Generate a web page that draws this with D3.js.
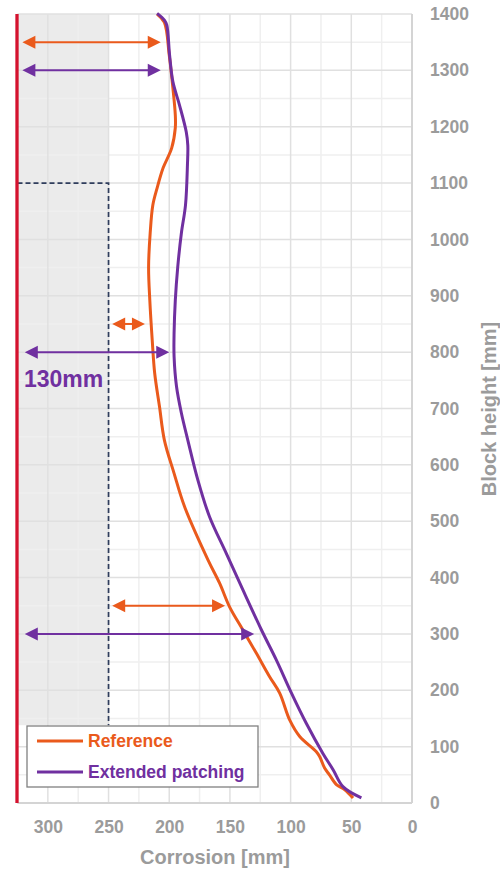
<!DOCTYPE html>
<html>
<head>
<meta charset="utf-8">
<script src="https://cdn.jsdelivr.net/npm/d3@7"></script>
<style>
  body { margin: 0; background: #fff; }
  text { font-family: "Liberation Sans", Arial, sans-serif; font-weight: bold; }
</style>
</head>
<body>
<div id="chart"></div>
<script>
// data: [corrosion mm, block height mm]
var referenceData = [
  [210, 1400], [204, 1385], [200, 1327], [197, 1269], [195, 1221], [195, 1198],
  [198, 1162], [205, 1127], [210, 1091], [213.5, 1061], [215.7, 1011], [217, 951],
  [216, 892], [214, 821], [212, 763], [208, 703], [204, 644], [196, 585],
  [187.4, 526], [168, 431], [158.5, 390], [150.3, 348], [139.3, 307], [128.3, 266],
  [117.3, 224], [109, 195], [100.7, 147], [92.5, 118], [78.8, 91], [76, 82],
  [72, 62], [68, 50], [62, 32], [55.6, 24], [48.6, 9]
];
var extendedData = [
  [210, 1401], [204, 1389], [202, 1380], [199.7, 1327], [197, 1280], [191.5, 1238],
  [186, 1191], [184.7, 1167], [185, 1132], [186.6, 1061], [190, 1011], [193, 951],
  [195, 892], [196, 834], [196, 792], [194, 739], [190, 692], [184.7, 644],
  [176.4, 573], [166.8, 508], [153, 443], [139.3, 378], [124, 307], [111.8, 254],
  [99.3, 195], [87, 141], [73.4, 88], [65, 59], [56.9, 29], [41.7, 9]
];

var xTicks = [300, 250, 200, 150, 100, 50, 0];
var xMinor = [325, 275, 225, 175, 125, 75, 25];
var yTicks = [0, 100, 200, 300, 400, 500, 600, 700, 800, 900, 1000, 1100, 1200, 1300, 1400];
var yMinor = [50, 150, 250, 350, 450, 550, 650, 750, 850, 950, 1050, 1150, 1250, 1350];

// dimension arrows: height, from, to, series
var arrowHeights = [1350, 1300, 850, 800, 350, 300];
var arrowFrom = [321, 321, 247, 319, 247, 319];
var arrowTo = [207, 207, 220, 200, 154, 130];
var arrowSeries = ["ref", "ext", "ref", "ext", "ref", "ext"];

var limitCorrosion = 250;
var limitHeight = 1100;
var shadeBottom = 138;

var orange = "#ea5a1c";
var purple = "#7030a0";
var gray = "#9b9b9b";

var svgWidth = 500;
var svgHeight = 870;

var svg = d3.select("#chart")
  .append("svg")
  .attr("width", svgWidth)
  .attr("height", svgHeight);

var x = d3.scaleLinear().domain([325, 0]).range([17.5, 412]);
var y = d3.scaleLinear().domain([0, 1400]).range([803, 14]);

// shaded zone
svg.append("rect")
  .attr("x", x(325))
  .attr("y", y(1400))
  .attr("width", x(limitCorrosion) - x(325))
  .attr("height", y(shadeBottom) - y(1400))
  .attr("fill", "#ebebeb");

// grid
var grid = svg.append("g");
grid.selectAll(".vminor").data(xMinor).enter().append("line")
  .attr("x1", d => x(d)).attr("x2", d => x(d))
  .attr("y1", y(0)).attr("y2", y(1400))
  .attr("stroke", "#efefef").attr("stroke-width", 1.5);
grid.selectAll(".hminor").data(yMinor).enter().append("line")
  .attr("x1", x(325)).attr("x2", x(0))
  .attr("y1", d => y(d)).attr("y2", d => y(d))
  .attr("stroke", "#efefef").attr("stroke-width", 1.5);
grid.selectAll(".vmajor").data(xTicks).enter().append("line")
  .attr("x1", d => x(d)).attr("x2", d => x(d))
  .attr("y1", y(0)).attr("y2", y(1400))
  .attr("stroke", "#e0e0e0").attr("stroke-width", 1.5);
grid.selectAll(".hmajor").data(yTicks).enter().append("line")
  .attr("x1", x(325)).attr("x2", x(0))
  .attr("y1", d => y(d)).attr("y2", d => y(d))
  .attr("stroke", "#e0e0e0").attr("stroke-width", 1.5);

// axis borders
svg.append("line")
  .attr("x1", x(0)).attr("x2", x(0)).attr("y1", y(1400)).attr("y2", y(0))
  .attr("stroke", "#d4d4d4").attr("stroke-width", 2);
svg.append("line")
  .attr("x1", x(325)).attr("x2", x(0)).attr("y1", y(0)).attr("y2", y(0))
  .attr("stroke", "#d4d4d4").attr("stroke-width", 2);

// dashed limit
svg.append("path")
  .attr("d", `M${x(325)},${y(limitHeight)}H${x(limitCorrosion)}V${y(shadeBottom)}`)
  .attr("fill", "none")
  .attr("stroke", "#2f3d5c")
  .attr("stroke-width", 1.7)
  .attr("stroke-dasharray", "5,3");

// red wall line
svg.append("line")
  .attr("x1", x(325) - 0.5).attr("x2", x(325) - 0.5)
  .attr("y1", y(1400)).attr("y2", y(0))
  .attr("stroke", "#d4122e").attr("stroke-width", 3.3);

// axes
var rightAxis = d3.axisRight(y).tickValues(yTicks).tickSize(0).tickPadding(18).tickFormat(d3.format("d"));
var bottomAxis = d3.axisBottom(x).tickValues(xTicks).tickSize(0).tickPadding(18).tickFormat(d3.format("d"));

var yAxis = svg.append("g")
  .attr("transform", `translate(${x(0)},0)`)
  .call(rightAxis);
var xAxis = svg.append("g")
  .attr("transform", `translate(0,${y(0)})`)
  .call(bottomAxis);

[xAxis, yAxis].forEach(function(a) {
  a.select(".domain").remove();
  a.selectAll("text")
    .attr("fill", gray)
    .style("font-size", "17.5px")
    .style("font-family", "'Liberation Sans', Arial, sans-serif")
    .style("font-weight", "bold");
});

svg.append("text")
  .attr("x", 215)
  .attr("y", 864)
  .attr("text-anchor", "middle")
  .attr("fill", gray)
  .style("font-size", "20px")
  .text("Corrosion [mm]");

svg.append("text")
  .attr("transform", "translate(496,409) rotate(-90)")
  .attr("text-anchor", "middle")
  .attr("fill", gray)
  .style("font-size", "20px")
  .text("Block height [mm]");

// curves
var line = d3.line()
  .x(d => x(d[0]))
  .y(d => y(d[1]))
  .curve(d3.curveCatmullRom);

svg.append("path")
  .datum(referenceData)
  .attr("d", line)
  .attr("fill", "none")
  .attr("stroke", orange)
  .attr("stroke-width", 3);

svg.append("path")
  .datum(extendedData)
  .attr("d", line)
  .attr("fill", "none")
  .attr("stroke", purple)
  .attr("stroke-width", 3);

// arrows
var headLen = 13, headHalf = 6.5;
arrowHeights.forEach(function(h, i) {
  var color = arrowSeries[i] === "ref" ? orange : purple;
  var x1 = x(arrowFrom[i]), x2 = x(arrowTo[i]), yy = y(h);
  var g = svg.append("g");
  g.append("line")
    .attr("x1", x1 + headLen - 1).attr("x2", x2 - headLen + 1)
    .attr("y1", yy).attr("y2", yy)
    .attr("stroke", color).attr("stroke-width", 2);
  g.append("path")
    .attr("d", `M${x1},${yy}L${x1 + headLen},${yy - headHalf}L${x1 + headLen},${yy + headHalf}Z`)
    .attr("fill", color);
  g.append("path")
    .attr("d", `M${x2},${yy}L${x2 - headLen},${yy - headHalf}L${x2 - headLen},${yy + headHalf}Z`)
    .attr("fill", color);
});

svg.append("text")
  .attr("x", 24)
  .attr("y", 387)
  .attr("fill", purple)
  .style("font-size", "23px")
  .text("130mm");

// legend
var legend = svg.append("g");
legend.append("rect")
  .attr("x", 27).attr("y", 726)
  .attr("width", 231).attr("height", 61)
  .attr("fill", "#fff")
  .attr("stroke", "#808080")
  .attr("stroke-width", 1.3);

var legendItems = [["Reference", orange], ["Extended patching", purple]];
legend.selectAll(".item").data(legendItems).enter().append("g")
  .attr("transform", (d, i) => `translate(0,${741 + i * 31})`)
  .each(function(d) {
    var g = d3.select(this);
    g.append("line")
      .attr("x1", 37).attr("x2", 83)
      .attr("stroke", d[1]).attr("stroke-width", 3);
    g.append("text")
      .attr("x", 88).attr("dy", "0.36em")
      .attr("fill", d[1])
      .style("font-size", "17.5px")
      .text(d[0]);
  });
</script>
</body>
</html>
